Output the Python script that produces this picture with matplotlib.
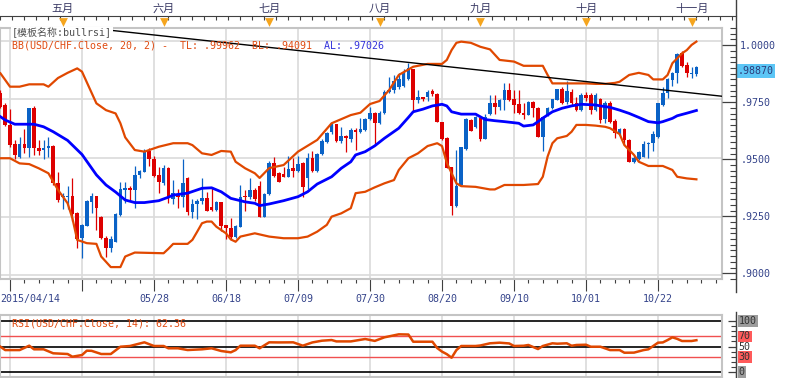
import numpy as np
import pandas as pd
import matplotlib
matplotlib.use('agg')
import matplotlib.pyplot as plt
from matplotlib.lines import Line2D

# ---- data (USD/CHF daily) ----
dates = pd.bdate_range('2015-04-14', periods=146)

opens = [0.9776, 0.9726, 0.9641, 0.9560, 0.9503, 0.9560, 0.9542, 0.9712, 0.9541, 0.9534,
         0.9541, 0.9551, 0.9393, 0.9335, 0.9333, 0.9338, 0.9265, 0.9158, 0.9212, 0.9313,
         0.9338, 0.9250, 0.9160, 0.9115, 0.9144, 0.9256, 0.9365, 0.9372, 0.9364, 0.9428,
         0.9442, 0.9531, 0.9494, 0.9428, 0.9393, 0.9456, 0.9325, 0.9342, 0.9332, 0.9416,
         0.9271, 0.9302, 0.9315, 0.9331, 0.9290, 0.9280, 0.9311, 0.9215, 0.9200, 0.9165,
         0.9206, 0.9338, 0.9332, 0.9364, 0.9381, 0.9248, 0.9347, 0.9477, 0.9435, 0.9432,
         0.9421, 0.9456, 0.9446, 0.9477, 0.9414, 0.9501, 0.9446, 0.9517, 0.9570, 0.9610,
         0.9643, 0.9574, 0.9595, 0.9581, 0.9619, 0.9610, 0.9619, 0.9665, 0.9693, 0.9648,
         0.9690, 0.9780, 0.9790, 0.9804, 0.9808, 0.9836, 0.9878, 0.9747, 0.9759, 0.9759,
         0.9787, 0.9773, 0.9655, 0.9586, 0.9463, 0.9295, 0.9387, 0.9538, 0.9662, 0.9631,
         0.9669, 0.9580, 0.9686, 0.9736, 0.9719, 0.9748, 0.9790, 0.9750, 0.9730, 0.9693,
         0.9683, 0.9740, 0.9712, 0.9591, 0.9683, 0.9712, 0.9748, 0.9793, 0.9740, 0.9783,
         0.9736, 0.9705, 0.9768, 0.9768, 0.9705, 0.9750, 0.9665, 0.9736, 0.9659, 0.9608,
         0.9622, 0.9577, 0.9484, 0.9497, 0.9506, 0.9560, 0.9564, 0.9591, 0.9726, 0.9776,
         0.9833, 0.9861, 0.9946, 0.9896, 0.9856, 0.9858]
highs = [0.9790, 0.9735, 0.9707, 0.9577, 0.9591, 0.9622, 0.9714, 0.9720, 0.9577, 0.9577,
         0.9591, 0.9555, 0.9442, 0.9352, 0.9381, 0.9415, 0.9268, 0.9218, 0.9320, 0.9350,
         0.9340, 0.9252, 0.9166, 0.9166, 0.9265, 0.9399, 0.9399, 0.9380, 0.9466, 0.9449,
         0.9538, 0.9541, 0.9508, 0.9463, 0.9472, 0.9460, 0.9406, 0.9369, 0.9494, 0.9420,
         0.9324, 0.9324, 0.9413, 0.9356, 0.9375, 0.9315, 0.9311, 0.9215, 0.9245, 0.9215,
         0.9385, 0.9364, 0.9415, 0.9370, 0.9403, 0.9350, 0.9486, 0.9503, 0.9440, 0.9463,
         0.9509, 0.9500, 0.9509, 0.9481, 0.9520, 0.9528, 0.9520, 0.9583, 0.9612, 0.9646,
         0.9646, 0.9634, 0.9598, 0.9626, 0.9626, 0.9670, 0.9672, 0.9719, 0.9696, 0.9700,
         0.9790, 0.9847, 0.9855, 0.9861, 0.9879, 0.9904, 0.9880, 0.9790, 0.9762, 0.9790,
         0.9795, 0.9776, 0.9655, 0.9591, 0.9463, 0.9534, 0.9549, 0.9670, 0.9665, 0.9680,
         0.9674, 0.9687, 0.9768, 0.9768, 0.9750, 0.9821, 0.9821, 0.9790, 0.9790, 0.9736,
         0.9744, 0.9744, 0.9719, 0.9680, 0.9719, 0.9753, 0.9796, 0.9804, 0.9830, 0.9796,
         0.9762, 0.9776, 0.9780, 0.9776, 0.9776, 0.9755, 0.9745, 0.9745, 0.9668, 0.9630,
         0.9627, 0.9580, 0.9513, 0.9530, 0.9574, 0.9570, 0.9613, 0.9736, 0.9801, 0.9840,
         0.9867, 0.9949, 0.9955, 0.9910, 0.9887, 0.9891]
lows = [0.9715, 0.9638, 0.9548, 0.9494, 0.9499, 0.9520, 0.9503, 0.9512, 0.9513, 0.9494,
        0.9503, 0.9385, 0.9311, 0.9282, 0.9282, 0.9231, 0.9115, 0.9073, 0.9210, 0.9265,
        0.9194, 0.9155, 0.9079, 0.9098, 0.9140, 0.9254, 0.9310, 0.9317, 0.9288, 0.9415,
        0.9440, 0.9464, 0.9420, 0.9350, 0.9385, 0.9307, 0.9302, 0.9285, 0.9293, 0.9257,
        0.9243, 0.9238, 0.9302, 0.9276, 0.9276, 0.9275, 0.9190, 0.9154, 0.9150, 0.9160,
        0.9206, 0.9275, 0.9325, 0.9318, 0.9248, 0.9248, 0.9344, 0.9420, 0.9399, 0.9417,
        0.9418, 0.9418, 0.9440, 0.9333, 0.9369, 0.9442, 0.9442, 0.9513, 0.9565, 0.9604,
        0.9570, 0.9565, 0.9527, 0.9570, 0.9534, 0.9605, 0.9615, 0.9663, 0.9561, 0.9645,
        0.9688, 0.9778, 0.9778, 0.9796, 0.9802, 0.9832, 0.9702, 0.9733, 0.9745, 0.9742,
        0.9763, 0.9655, 0.9578, 0.9456, 0.9257, 0.9290, 0.9385, 0.9535, 0.9617, 0.9627,
        0.9574, 0.9580, 0.9682, 0.9687, 0.9706, 0.9705, 0.9745, 0.9691, 0.9687, 0.9665,
        0.9682, 0.9674, 0.9589, 0.9531, 0.9679, 0.9710, 0.9748, 0.9732, 0.9732, 0.9726,
        0.9700, 0.9700, 0.9745, 0.9688, 0.9700, 0.9650, 0.9651, 0.9651, 0.9584, 0.9600,
        0.9556, 0.9484, 0.9477, 0.9491, 0.9503, 0.9500, 0.9531, 0.9587, 0.9721, 0.9755,
        0.9807, 0.9821, 0.9889, 0.9847, 0.9840, 0.9848]
closes = [0.9719, 0.9641, 0.9555, 0.9513, 0.9560, 0.9544, 0.9712, 0.9542, 0.9531, 0.9541,
          0.9551, 0.9392, 0.9322, 0.9340, 0.9338, 0.9262, 0.9154, 0.9215, 0.9316, 0.9338,
          0.9286, 0.9158, 0.9115, 0.9154, 0.9262, 0.9368, 0.9372, 0.9365, 0.9428, 0.9445,
          0.9531, 0.9494, 0.9423, 0.9399, 0.9456, 0.9328, 0.9350, 0.9332, 0.9392, 0.9271,
          0.9304, 0.9315, 0.9331, 0.9276, 0.9280, 0.9311, 0.9209, 0.9200, 0.9165, 0.9210,
          0.9333, 0.9332, 0.9364, 0.9324, 0.9248, 0.9347, 0.9477, 0.9423, 0.9399, 0.9421,
          0.9452, 0.9446, 0.9474, 0.9375, 0.9501, 0.9446, 0.9517, 0.9574, 0.9605, 0.9643,
          0.9574, 0.9595, 0.9584, 0.9619, 0.9610, 0.9622, 0.9667, 0.9693, 0.9648, 0.9693,
          0.9783, 0.9790, 0.9829, 0.9836, 0.9861, 0.9882, 0.9747, 0.9759, 0.9750, 0.9783,
          0.9773, 0.9655, 0.9581, 0.9456, 0.9295, 0.9381, 0.9546, 0.9665, 0.9617, 0.9674,
          0.9580, 0.9676, 0.9736, 0.9719, 0.9748, 0.9790, 0.9748, 0.9726, 0.9691, 0.9683,
          0.9740, 0.9712, 0.9591, 0.9674, 0.9712, 0.9750, 0.9793, 0.9736, 0.9786, 0.9733,
          0.9705, 0.9768, 0.9755, 0.9705, 0.9768, 0.9662, 0.9736, 0.9655, 0.9605, 0.9625,
          0.9577, 0.9484, 0.9499, 0.9525, 0.9560, 0.9564, 0.9602, 0.9733, 0.9778, 0.9836,
          0.9864, 0.9943, 0.9892, 0.9864, 0.9861, 0.98870]

# Bollinger(20, 2) as drawn: bar index -> value
upper_idx = [0, 2, 4, 6, 9, 10, 12, 14, 16, 17, 20, 22, 24, 25, 26, 28, 30, 33, 36, 39,
             40, 42, 44, 46, 48, 49, 51, 53, 54, 56, 59, 62, 66, 69, 73, 75, 77, 79, 81, 83,
             86, 89, 92, 93, 94, 95, 96, 98, 100, 102, 104, 107, 109, 113, 114, 115, 118, 122, 124, 126,
             128, 129, 131, 133, 135, 136, 138, 139, 140, 142, 143, 144, 145]
upper_val = [0.9861, 0.9804, 0.9804, 0.9814, 0.9814, 0.9804, 0.9841, 0.9863, 0.9882, 0.9868,
             0.9733, 0.9704, 0.9690, 0.9648, 0.9588, 0.9534, 0.9527, 0.9548, 0.9563, 0.9563,
             0.9555, 0.9520, 0.9513, 0.9530, 0.9527, 0.9484, 0.9456, 0.9435, 0.9415, 0.9457,
             0.9470, 0.9527, 0.9577, 0.9648, 0.9683, 0.9693, 0.9730, 0.9743, 0.9790, 0.9854,
             0.9889, 0.9901, 0.9901, 0.9918, 0.9960, 0.9991, 0.9996, 0.9991, 0.9974, 0.9963,
             0.9918, 0.9911, 0.9893, 0.9893, 0.9854, 0.9818, 0.9818, 0.9818, 0.9816, 0.9816,
             0.9820, 0.9825, 0.9854, 0.9863, 0.9854, 0.9835, 0.9835, 0.9854, 0.9904, 0.9946,
             0.9960, 0.9982, 0.99962]
mid_idx = [0, 1, 3, 7, 9, 11, 14, 17, 20, 22, 24, 26, 28, 30, 33, 35, 36, 39, 42, 44,
           46, 48, 51, 53, 54, 56, 59, 62, 64, 66, 69, 71, 73, 74, 76, 78, 80, 83, 85, 86,
           88, 90, 92, 93, 94, 96, 99, 101, 103, 105, 108, 109, 111, 112, 113, 115, 117, 119, 121, 124,
           125, 127, 129, 131, 133, 135, 137, 138, 140, 141, 143, 145]
mid_val = [0.9676, 0.9662, 0.9644, 0.9644, 0.9633, 0.9612, 0.9575, 0.9515, 0.9428, 0.9385,
           0.9355, 0.9321, 0.9310, 0.9310, 0.9318, 0.9333, 0.9342, 0.9350, 0.9371, 0.9373,
           0.9356, 0.9328, 0.9313, 0.9307, 0.9297, 0.9304, 0.9318, 0.9335, 0.9356, 0.9389,
           0.9420, 0.9456, 0.9484, 0.9513, 0.9527, 0.9552, 0.9584, 0.9627, 0.9673, 0.9697,
           0.9708, 0.9722, 0.9729, 0.9722, 0.9697, 0.9687, 0.9687, 0.9664, 0.9659, 0.9655,
           0.9648, 0.9636, 0.9641, 0.9655, 0.9670, 0.9697, 0.9712, 0.9722, 0.9729, 0.9726,
           0.9722, 0.9716, 0.9704, 0.9690, 0.9673, 0.9655, 0.9650, 0.9655, 0.9669, 0.9680,
           0.9691, 0.97026]
lower_idx = [0, 2, 4, 6, 8, 10, 12, 14, 15, 16, 18, 20, 21, 23, 25, 26, 28, 34, 35, 36,
             39, 40, 41, 42, 43, 44, 45, 47, 48, 49, 50, 53, 56, 59, 62, 64, 66, 68, 69, 71,
             73, 74, 76, 78, 80, 82, 83, 85, 87, 89, 91, 92, 93, 94, 95, 96, 99, 102, 103, 105,
             109, 112, 113, 114, 115, 116, 118, 119, 120, 122, 124, 126, 127, 129, 130, 132, 133, 135,
             138, 140, 141, 143, 145]
lower_val = [0.9499, 0.9499, 0.9477, 0.9474, 0.9456, 0.9435, 0.9364, 0.9307, 0.9243, 0.9151,
             0.9137, 0.9134, 0.9080, 0.9035, 0.9035, 0.9080, 0.9097, 0.9094, 0.9113, 0.9134,
             0.9134, 0.9151, 0.9186, 0.9222, 0.9229, 0.9229, 0.9207, 0.9179, 0.9153, 0.9143,
             0.9165, 0.9179, 0.9165, 0.9158, 0.9158, 0.9165, 0.9186, 0.9215, 0.9250, 0.9264,
             0.9286, 0.9350, 0.9356, 0.9375, 0.9392, 0.9406, 0.9449, 0.9499, 0.9520, 0.9551,
             0.9563, 0.9551, 0.9480, 0.9435, 0.9392, 0.9380, 0.9377, 0.9366, 0.9366, 0.9385,
             0.9385, 0.9389, 0.9420, 0.9506, 0.9563, 0.9584, 0.9594, 0.9612, 0.9641, 0.9641,
             0.9638, 0.9633, 0.9627, 0.9602, 0.9555, 0.9513, 0.9484, 0.9466,
             0.9466, 0.9449, 0.9420, 0.9413, 0.94091]

# RSI(14) as drawn
rsi_idx = [0, 1, 4, 6, 7, 9, 11, 14, 15, 17, 18, 19, 21, 23, 25, 27, 30, 32, 34, 35,
           37, 39, 42, 44, 46, 48, 49, 50, 53, 54, 56, 58, 61, 63, 65, 67, 69, 70, 73, 76,
           78, 80, 83, 85, 86, 90, 91, 92, 93, 94, 95, 96, 99, 100, 102, 104, 106, 107, 109, 110,
           112, 113, 115, 116, 118, 119, 120, 122, 123, 125, 127, 129, 130, 132, 133, 134, 135, 137,
           138, 139, 140, 141, 142, 144, 145]
rsi_val = [49.6, 43.0, 43.0, 51.6, 44.5, 44.5, 36.7, 35.3, 30.0, 33.3, 41.8, 41.5, 35.3, 35.3,
           49.6, 51.0, 58.2, 51.0, 51.0, 46.5, 46.5, 43.1, 44.5, 46.5, 41.2, 38.6, 43.0, 51.6,
           51.6, 46.5, 58.2, 58.0, 58.2, 51.6, 58.0, 61.4, 62.7, 60.0, 60.0, 64.7, 61.0, 68.0,
           73.9, 73.5, 59.4, 59.4, 47.0, 40.0, 35.0, 28.0, 43.0, 51.0, 51.0, 52.0, 56.3, 57.5,
           56.0, 51.0, 51.5, 53.0, 45.0, 51.0, 56.3, 55.5, 56.3, 51.5, 53.0, 53.5, 49.6, 49.6,
           43.0, 43.0, 37.8, 38.0, 40.5, 43.0, 44.5, 57.5, 58.0, 62.7, 68.0, 65.0, 60.8, 60.8, 62.36]

trend_idx = [24.5, 150.0]
trend_val = [1.0041, 0.9764]

price_major = [0.9000, 0.9250, 0.9500, 0.9750, 1.0000]
rsi_levels = [0, 30, 50, 70, 100]
month_names = ['五月', '六月', '七月', '八月', '九月', '十月', '十一月']

# ---- style ----
W, H = 786, 378
UP = '#0a62c6'
DOWN = '#dd0000'
BAND = '#e04800'
MID = '#0000ff'
GRID = '#dadada'
FRAME = '#c4c4c4'
AXC = '#404040'
TXT = '#34438a'
plt.rcParams['font.family'] = ['DejaVu Sans Mono', 'Noto Sans CJK SC']
FS = 7.2


def box(l, t, r, b):
    return [l / W, 1 - b / H, (r - l) / W, (b - t) / H]


def xspan(l, r):
    # pixel span -> bar index span (4.8 px per bar)
    return ((l - 0.4) / 4.8, (r - 0.4) / 4.8)


def pfmt(v, nd=4):
    s = f'{v:.{nd}f}'
    return s if v >= 1 else s[1:]


fig = plt.figure(figsize=(W / 100, H / 100), dpi=100)

x = np.arange(len(closes))
o, hi, lo, c = map(np.array, (opens, highs, lows, closes))
cols = np.where(c >= o, UP, DOWN)
grid_idx = list(range(2, len(x), 15))
month_idx = [i for i in range(1, len(x)) if dates[i].month != dates[i - 1].month]

# ---- main price panel ----
ax = fig.add_axes(box(0, 28, 722, 279))
ax.set_xlim(*xspan(0, 722))
ax.set_ylim(1.0 - (279 - 40.7) / 2346, 1.0 + (40.7 - 28) / 2346)
for g in grid_idx:
    ax.axvline(g, color=GRID, lw=1.2, zorder=0)
for p in price_major:
    ax.axhline(p, color=GRID, lw=1.2, zorder=0)

ax.vlines(x, lo, hi, colors=cols, lw=0.9, zorder=3)
ax.bar(x, np.maximum(np.abs(c - o), 0.00012), bottom=np.minimum(o, c), width=0.72,
       color=cols, linewidth=0, zorder=3)
ax.plot(upper_idx, upper_val, color=BAND, lw=1.6, zorder=4)
ax.plot(lower_idx, lower_val, color=BAND, lw=1.6, zorder=4)
ax.plot(mid_idx, mid_val, color=MID, lw=2.0, zorder=4)
ax.axline((trend_idx[0], trend_val[0]), (trend_idx[1], trend_val[1]), color='black', lw=1, zorder=5)

for s in ax.spines.values():
    s.set_color(FRAME)
    s.set_linewidth(1.5)
ax.set_yticks([])
ax.set_xticks(grid_idx, [''] * 2 + [dates[i].strftime('%m/%d') for i in grid_idx[2:]])
ax.set_xticks(np.arange(2, len(x) + 4, 3), minor=True)
ax.tick_params(axis='x', which='major', direction='out', length=8.6, color=AXC, width=0.8,
               labelsize=FS, labelcolor=TXT, pad=2)
ax.tick_params(axis='x', which='minor', direction='out', length=3, color=AXC, width=0.8)
ax.annotate(dates[0].strftime('%Y/%m/%d'), xy=(0, 0), xycoords='axes fraction',
            xytext=(0, -11), textcoords='offset points', ha='left', va='top',
            fontsize=FS, color=TXT, annotation_clip=False)

# ---- top month strip ----
axt = fig.add_axes(box(0, 16, 736, 28))
axt.set_xlim(*xspan(0, 736))
axt.set_ylim(0, 1)
axt.patch.set_visible(False)
for s in ['left', 'right', 'bottom']:
    axt.spines[s].set_visible(False)
axt.spines['top'].set_color(AXC)
axt.xaxis.set_ticks_position('top')
axt.set_xticks(month_idx, month_names)
axt.set_xticks(np.arange(0, 154, 2.5), minor=True)
axt.tick_params(axis='x', which='major', length=0, pad=1.5, labelsize=8, labelcolor='#3c3c66')
axt.tick_params(axis='x', which='minor', direction='in', length=3, color=AXC, width=0.8)
axt.set_yticks([])
axt.scatter(month_idx, [0.5] * len(month_idx), marker='v', s=40, color='#f5a51e',
            linewidths=0, zorder=3, clip_on=False)

# ---- right price scale ----
axr = fig.add_axes(box(722, 28, 736, 279))
axr.set_ylim(ax.get_ylim())
axr.patch.set_visible(False)
axr.set_xticks([])
for s in ['left', 'top', 'bottom']:
    axr.spines[s].set_visible(False)
axr.spines['right'].set_color(AXC)
axr.yaxis.tick_right()
axr.set_yticks(price_major, [pfmt(p) for p in price_major])
axr.set_yticks(np.arange(0.8975, 1.0076, 0.0025), minor=True)
axr.tick_params(axis='y', which='major', direction='in', length=10, color=AXC, width=0.9,
                pad=3, labelsize=FS, labelcolor=TXT)
axr.tick_params(axis='y', which='minor', direction='in', length=4.3, color=AXC, width=0.8)
axr.text(1.1, closes[-1], pfmt(closes[-1], 5), transform=axr.get_yaxis_transform(),
         ha='left', va='center', fontsize=FS, color='#2c3c7a',
         bbox=dict(facecolor='#5cc6f6', edgecolor='none', pad=1.2))

fig.add_artist(Line2D([736 / W] * 2, [1, 1 - 292 / H], color=AXC, lw=1))

# ---- RSI panel ----
ax2 = fig.add_axes(box(0, 315, 722, 377))
ax2.set_xlim(*xspan(0, 722))
ax2.set_ylim(-9.8, 111.8)
for g in grid_idx:
    ax2.axvline(g, color=GRID, lw=1.2, zorder=0)
for lv in rsi_levels:
    red = lv in (30, 70)
    ax2.axhline(lv, color='#f05050' if red else 'black', lw=1.0 if red else 1.2, zorder=1)
ax2.plot(rsi_idx, rsi_val, color=BAND, lw=1.8, zorder=3)
ax2.set_xticks([])
ax2.set_yticks([])
for s in ax2.spines.values():
    s.set_color(FRAME)
    s.set_linewidth(1.5)

axr2 = fig.add_axes(box(722, 315, 736, 377))
axr2.set_ylim(ax2.get_ylim())
axr2.patch.set_visible(False)
axr2.set_xticks([])
for s in ['left', 'top', 'bottom']:
    axr2.spines[s].set_visible(False)
axr2.spines['right'].set_color(AXC)
axr2.yaxis.tick_right()
axr2.set_yticks([0, 50, 100], ['', '', ''])
axr2.set_yticks(np.arange(0, 101, 10), minor=True)
axr2.tick_params(axis='y', which='major', direction='in', length=5.5, color=AXC, width=0.9)
axr2.tick_params(axis='y', which='minor', direction='in', length=3.5, color=AXC, width=0.8)
label_bg = {0: '#9c9c9c', 30: '#ff5a5a', 50: 'none', 70: '#ff5a5a', 100: '#9c9c9c'}
for lv in rsi_levels:
    axr2.text(1.2, lv, str(lv), transform=axr2.get_yaxis_transform(), ha='left', va='center',
              fontsize=FS, color='#333333',
              bbox=dict(facecolor=label_bg[lv], edgecolor='none', pad=0.6))
fig.add_artist(Line2D([736 / W] * 2, [1 - 312 / H, 0], color=AXC, lw=1))

# ---- captions ----
fig.text(12 / W, 1 - 33 / H, '[模板名称:bullrsi]', fontsize=FS, color='#505050',
         va='center', ha='left', bbox=dict(facecolor='white', edgecolor='none', pad=0.5))
bb_txt = fig.text(12 / W, 1 - 46 / H,
                  f'BB(USD/CHF.Close, 20, 2) -  TL: {pfmt(upper_val[-1], 5)}  BL: {pfmt(lower_val[-1], 5)}',
                  fontsize=FS, color='#e04a10', va='center', ha='left')
ax.annotate(f'  AL: {pfmt(mid_val[-1], 5)}', xy=(1, 0), xycoords=bb_txt, va='bottom', ha='left',
            fontsize=FS, color='#3434dc', annotation_clip=False)
fig.text(12 / W, 1 - 323 / H, f'RSI(USD/CHF.Close, 14): {rsi_val[-1]:.2f}', fontsize=FS,
         color='#e04a10', va='center', ha='left')

fig.savefig('out.png', dpi=100, facecolor='white')
